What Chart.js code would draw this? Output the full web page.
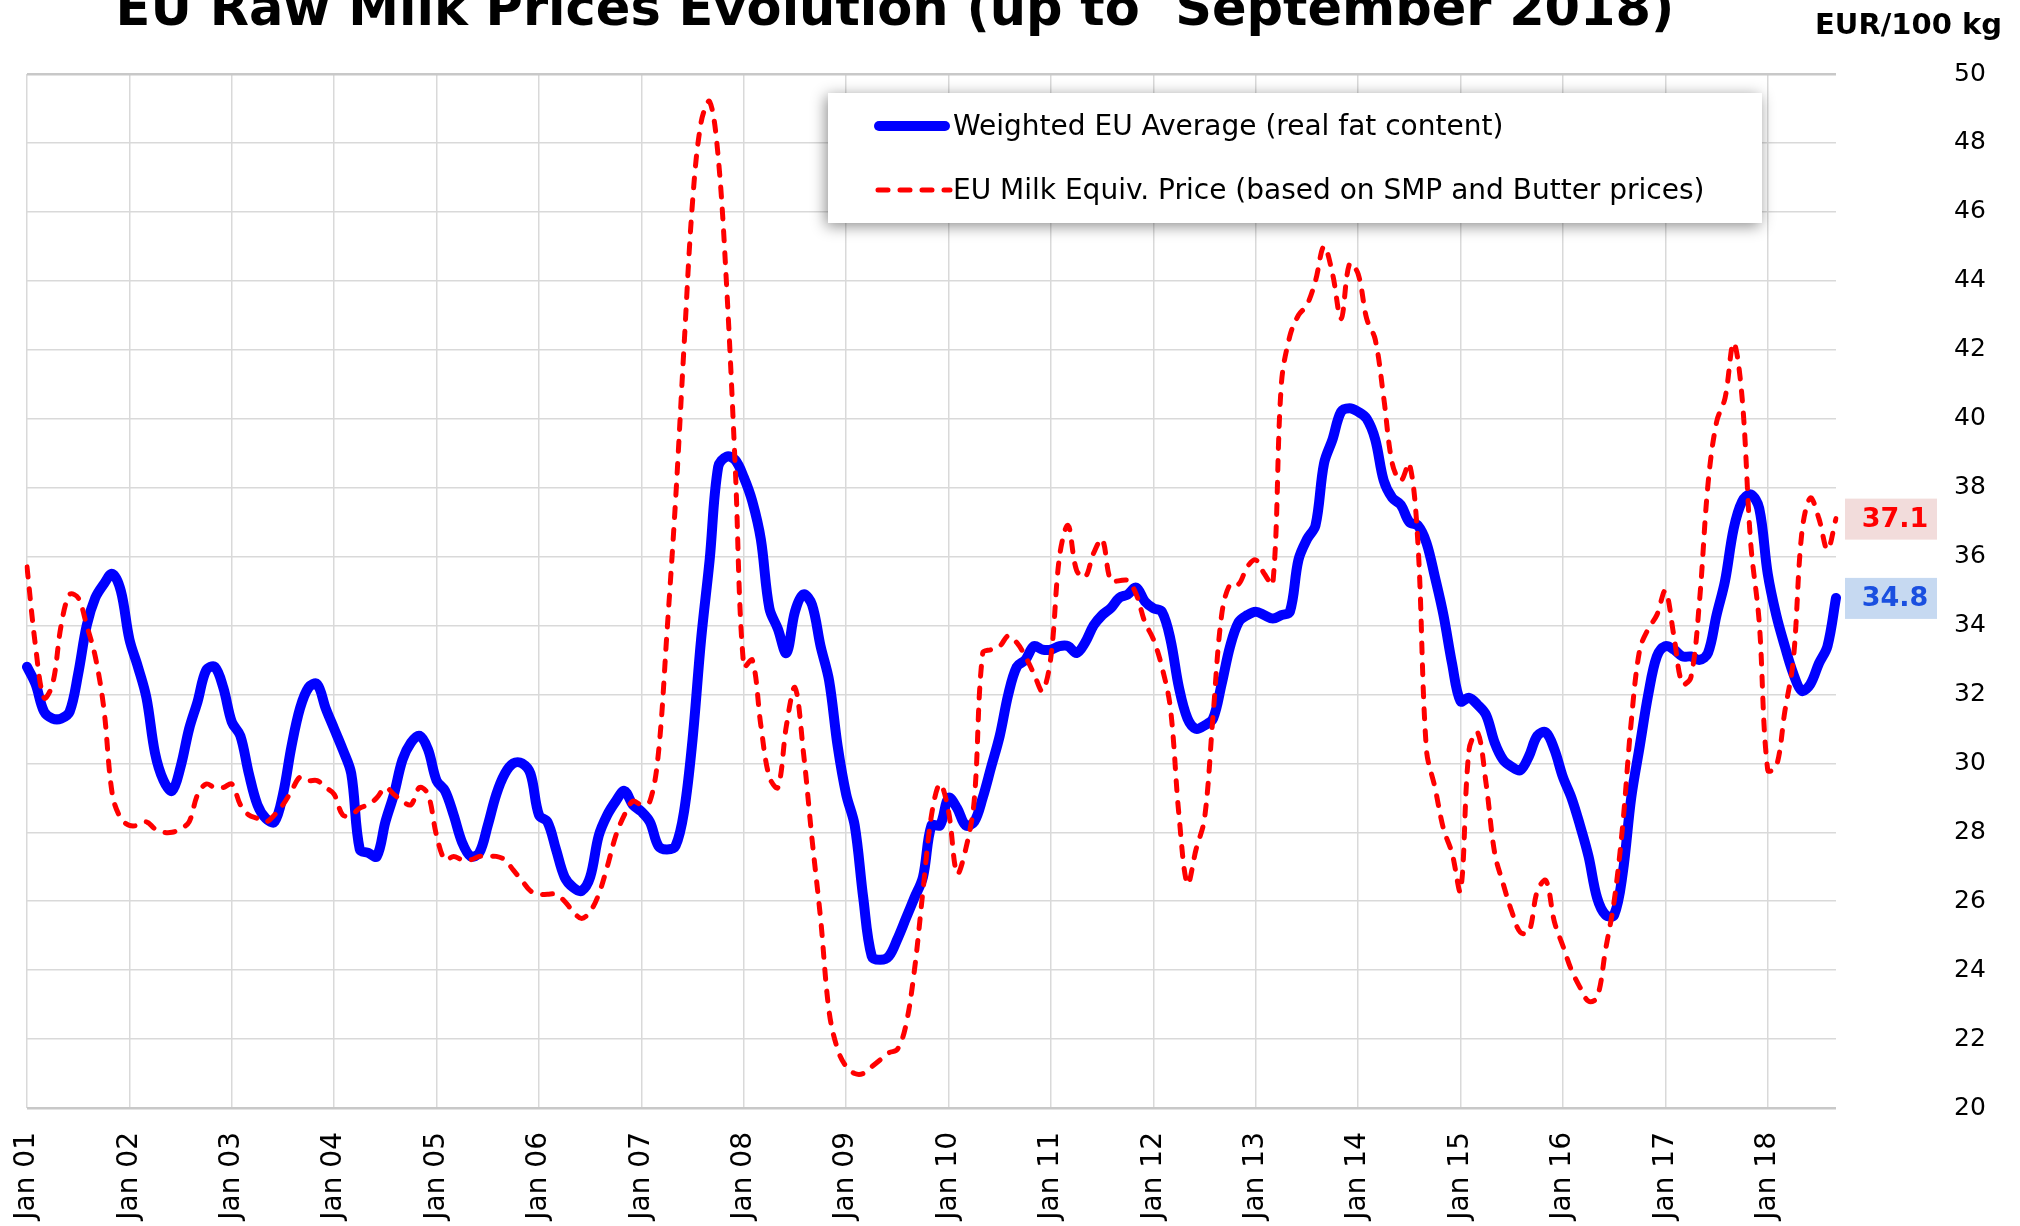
<!DOCTYPE html>
<html>
<head>
<meta charset="utf-8">
<title>EU Raw Milk Prices Evolution</title>
<script src="https://cdn.jsdelivr.net/npm/chart.js@4.4.1/dist/chart.umd.min.js"></script>
<style>
  html, body { margin: 0; padding: 0; background: #fff; overflow: hidden; }
  #wrap { width: 2020px; height: 1226px; position: relative; }
</style>
</head>
<body>
<div id="wrap"><canvas id="chart-milk" width="2020" height="1226"></canvas></div>
<script>
// monthly values, Jan 2001 .. Sep 2018 (EUR/100 kg)
const yearLabels = ["01", "02", "03", "04", "05", "06", "07", "08", "09",
  "10", "11", "12", "13", "14", "15", "16", "17", "18"];
const monthNames = ["Jan", "Feb", "Mar", "Apr", "May", "Jun", "Jul", "Aug", "Sep", "Oct", "Nov", "Dec"];

const weightedAvg = [
  32.8, 32.3, 31.5, 31.3, 31.3, 31.5, 32.6, 34.0, 34.8, 35.2, 35.5, 35.0,
  33.6, 32.8, 31.9, 30.3, 29.5, 29.2, 29.9, 31.0, 31.8, 32.7, 32.8, 32.2,
  31.2, 30.8, 29.7, 28.8, 28.4, 28.3, 29.1, 30.5, 31.6, 32.2, 32.3, 31.6,
  31.0, 30.4, 29.7, 27.5, 27.4, 27.3, 28.3, 29.1, 30.1, 30.6, 30.8, 30.4,
  29.5, 29.2, 28.5, 27.7, 27.3, 27.4, 28.2, 29.1, 29.7, 30.0, 30.0, 29.7,
  28.5, 28.3, 27.5, 26.7, 26.4, 26.3, 26.7, 27.9, 28.5, 28.9, 29.2, 28.8,
  28.6, 28.3, 27.6, 27.5, 27.6, 28.6, 30.7, 33.6, 35.9, 38.6, 38.9, 38.8,
  38.3, 37.6, 36.5, 34.5, 33.9, 33.2, 34.4, 34.9, 34.6, 33.4, 32.4, 30.5,
  29.1, 28.2, 26.1, 24.4, 24.3, 24.4, 24.9, 25.5, 26.1, 26.7, 28.2, 28.2,
  29.0, 28.7, 28.2, 28.3, 29.0, 29.9, 30.8, 32.0, 32.8, 33.0, 33.4, 33.3,
  33.3, 33.4, 33.4, 33.2, 33.5, 34.0, 34.3, 34.5, 34.8, 34.9, 35.1, 34.7,
  34.5, 34.4, 33.6, 32.2, 31.3, 31.0, 31.1, 31.3, 32.3, 33.4, 34.1, 34.3,
  34.4, 34.3, 34.2, 34.3, 34.4, 35.9, 36.5, 36.9, 38.7, 39.4, 40.2, 40.3,
  40.2, 40.0, 39.4, 38.2, 37.7, 37.5, 37.0, 36.9, 36.4, 35.4, 34.3, 32.9,
  31.8, 31.9, 31.7, 31.4, 30.6, 30.1, 29.9, 29.8, 30.2, 30.8, 30.9, 30.4,
  29.6, 29.0, 28.2, 27.3, 26.1, 25.6, 25.6, 26.8, 29.0, 30.5, 32.0, 33.1,
  33.4, 33.3, 33.1, 33.1, 33.0, 33.2, 34.3, 35.3, 36.8, 37.6, 37.8, 37.4,
  35.5, 34.3, 33.4, 32.6, 32.1, 32.3, 32.9, 33.4, 34.8
];

const milkEquiv = [
  35.7, 33.4, 31.9, 32.3, 34.0, 34.9, 34.8, 34.0, 33.1, 31.6, 29.1, 28.4,
  28.2, 28.2, 28.3, 28.1, 28.0, 28.0, 28.1, 28.3, 29.1, 29.4, 29.3, 29.3,
  29.4, 28.8, 28.5, 28.4, 28.3, 28.5, 28.8, 29.2, 29.6, 29.5, 29.5, 29.3,
  29.1, 28.5, 28.5, 28.7, 28.8, 29.0, 29.3, 29.1, 28.9, 28.8, 29.3, 29.1,
  27.9, 27.2, 27.3, 27.2, 27.2, 27.3, 27.3, 27.3, 27.2, 26.9, 26.6, 26.3,
  26.2, 26.2, 26.2, 26.0, 25.7, 25.5, 25.7, 26.2, 27.0, 27.9, 28.5, 28.9,
  28.8, 28.9, 30.3, 33.8, 37.6, 42.1, 46.3, 48.6, 49.2, 47.6, 43.8, 38.6,
  32.8, 33.0, 31.1, 29.6, 29.3, 31.1, 32.2, 30.3, 27.8, 25.5, 22.8, 21.7,
  21.2, 21.0, 21.0, 21.2, 21.4, 21.6, 21.7, 22.4, 24.0, 26.3, 28.5, 29.4,
  28.6, 26.8, 27.5, 28.9, 33.2, 33.3, 33.4, 33.7, 33.5, 33.1, 32.6, 32.1,
  33.1, 36.0, 36.9, 35.6, 35.4, 36.1, 36.5, 35.3, 35.3, 35.3, 34.9, 34.1,
  33.6, 32.8, 31.6, 28.5, 26.5, 27.5, 28.4, 31.4, 34.3, 35.2, 35.2, 35.7,
  35.9, 35.5, 35.2, 41.0, 42.4, 43.0, 43.3, 44.0, 45.0, 44.2, 42.9, 44.5,
  44.2, 42.9, 42.3, 40.6, 38.7, 38.2, 38.7, 36.4, 30.4, 29.3, 28.1, 27.4,
  26.3, 30.4, 30.9, 29.4, 27.4, 26.5, 25.7, 25.1, 25.1, 26.3, 26.6, 25.4,
  24.7, 24.0, 23.5, 23.1, 23.2, 24.6, 26.0, 28.2, 31.2, 33.3, 33.9, 34.3,
  35.0, 33.7, 32.3, 32.5, 34.7, 38.1, 39.9, 40.6, 42.2, 40.6, 36.4, 34.1,
  29.8, 29.9, 31.5, 33.0, 36.7, 37.7, 37.1, 36.2, 37.1
];

const seriesNames = [
  "Weighted EU Average (real fat content)",
  "EU Milk Equiv. Price (based on SMP and Butter prices)",
];

// "Jan 01", "Feb 01", ... one label per monthly value
const labels = weightedAvg.map(function (v, i) {
  return monthNames[i % 12] + " " + yearLabels[Math.floor(i / 12)];
});

const FONT = "'DejaVu Sans', Verdana, sans-serif";
const BLUE = "#0000ff";
const RED = "#ff0000";
const RED_DASH = [10, 12];

const extras = {
  id: "extras",
  afterDatasetsDraw(chart) {
    const ctx = chart.ctx;
    const yScale = chart.scales.y;

    // legend box with shadow
    ctx.save();
    ctx.shadowColor = "rgba(0, 0, 0, 0.45)";
    ctx.shadowBlur = 14;
    ctx.shadowOffsetX = -2;
    ctx.shadowOffsetY = 3;
    ctx.fillStyle = "#ffffff";
    ctx.fillRect(828, 93, 934, 130);
    ctx.restore();

    ctx.save();
    ctx.lineCap = "round";
    ctx.strokeStyle = BLUE;
    ctx.lineWidth = 10;
    ctx.beginPath();
    ctx.moveTo(879, 126);
    ctx.lineTo(945, 126);
    ctx.stroke();

    ctx.strokeStyle = RED;
    ctx.lineWidth = 5;
    ctx.setLineDash(RED_DASH);
    ctx.beginPath();
    ctx.moveTo(878, 190);
    ctx.lineTo(950, 190);
    ctx.stroke();
    ctx.setLineDash([]);

    ctx.fillStyle = "#000";
    ctx.font = "28px " + FONT;
    ctx.textAlign = "left";
    ctx.textBaseline = "middle";
    ctx.fillText(seriesNames[0], 953, 128);
    ctx.fillText(seriesNames[1], 953, 192);
    ctx.restore();

    // last-value tags on the right
    const tags = [
      { value: milkEquiv[milkEquiv.length - 1], fg: RED, bg: "#f2dcdb" },
      { value: weightedAvg[weightedAvg.length - 1], fg: "#1a4fe0", bg: "#c6d9f1" },
    ];
    ctx.save();
    ctx.font = "bold 27px " + FONT;
    ctx.textAlign = "center";
    ctx.textBaseline = "middle";
    tags.forEach(function (t) {
      const y = yScale.getPixelForValue(t.value);
      ctx.fillStyle = t.bg;
      ctx.fillRect(1845, y - 20, 92, 41);
      ctx.fillStyle = t.fg;
      ctx.fillText(t.value.toFixed(1), 1895, y + 1);
    });
    ctx.restore();
  },
  afterDraw(chart) {
    const ctx = chart.ctx;
    ctx.save();
    ctx.fillStyle = "#000";
    ctx.textBaseline = "alphabetic";
    ctx.font = "bold 51px " + FONT;
    ctx.textAlign = "center";
    ctx.fillText("EU Raw Milk Prices Evolution (up to  September 2018)", 895, 25);
    ctx.font = "bold 29px " + FONT;
    ctx.textAlign = "right";
    ctx.textBaseline = "middle";
    ctx.fillText("EUR/100 kg", 2002, 26);
    ctx.restore();
  },
};

const ctx = document.getElementById("chart-milk").getContext("2d");

function createChart() {
  return new Chart(ctx, {
    type: "line",
    data: {
      labels: labels,
      datasets: [
        {
          label: seriesNames[0],
          data: weightedAvg,
          borderColor: BLUE,
          borderWidth: 10,
          borderCapStyle: "round",
          borderJoinStyle: "round",
          pointRadius: 0,
          tension: 0.35,
          order: 2,
        },
        {
          label: seriesNames[1],
          data: milkEquiv,
          borderColor: RED,
          borderWidth: 5,
          borderDash: RED_DASH,
          borderCapStyle: "round",
          pointRadius: 0,
          tension: 0.35,
          order: 1,
        },
      ],
    },
    options: {
      responsive: false,
      maintainAspectRatio: false,
      animation: false,
      layout: {
        padding: { left: 27, top: 74, right: 0, bottom: 0 },
      },
      plugins: {
        legend: { display: false },
        tooltip: { enabled: false },
      },
      scales: {
        x: {
          type: "category",
          offset: false,
          afterFit: function (scale) {
            scale.height = 118;
          },
          border: { display: false },
          grid: {
            drawTicks: true,
            tickLength: 24,
            tickColor: "rgba(0,0,0,0)",
            color: "#d9d9d9",
            lineWidth: 1.5,
          },
          ticks: {
            autoSkip: false,
            maxRotation: 90,
            minRotation: 90,
            padding: 0,
            color: "#000",
            font: { family: FONT, size: 28 },
            callback: function (value) {
              const lab = this.getLabelForValue(value);
              return lab.indexOf("Jan") === 0 ? lab : null;
            },
          },
        },
        y: {
          position: "right",
          min: 20,
          max: 50,
          afterFit: function (scale) {
            scale.width = 184;
          },
          border: { display: false },
          grid: {
            drawTicks: true,
            tickLength: 118,
            tickColor: "rgba(0,0,0,0)",
            color: function (c) {
              return c.tick.value === 50 || c.tick.value === 20 ? "#c8c8c8" : "#d9d9d9";
            },
            lineWidth: function (c) {
              return c.tick.value === 50 || c.tick.value === 20 ? 2.5 : 1.5;
            },
          },
          ticks: {
            stepSize: 2,
            padding: 0,
            color: "#000",
            font: { family: FONT, size: 25 },
          },
        },
      },
    },
    plugins: [extras],
  });
}

window.addEventListener("load", createChart);
</script>
</body>
</html>
